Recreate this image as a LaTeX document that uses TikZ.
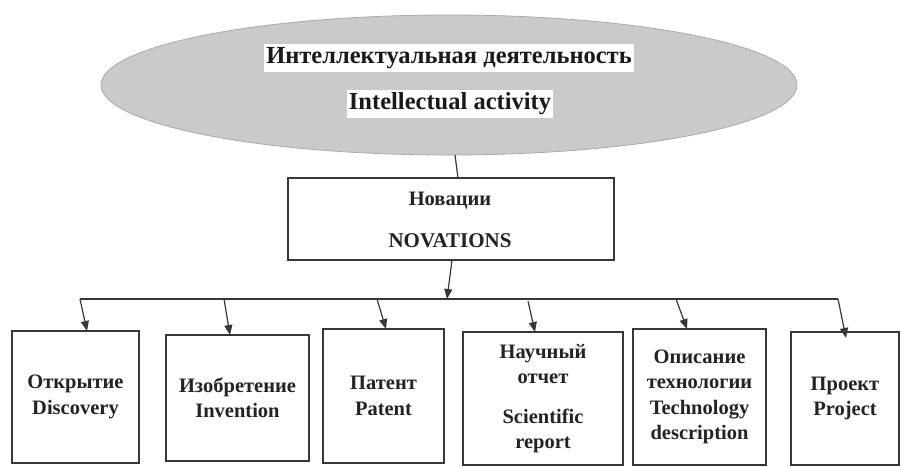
\documentclass[tikz,border=0pt]{standalone}
\usepackage{fontspec}
\setmainfont{Liberation Serif}
\usetikzlibrary{arrows.meta,shapes.geometric}
\definecolor{ellfill}{RGB}{202,202,202}
\definecolor{elldraw}{RGB}{170,170,170}
\definecolor{linec}{RGB}{55,55,55}
\definecolor{txtc}{RGB}{35,35,35}
\begin{document}
\begin{tikzpicture}[x=1pt,y=-1pt,
  every node/.style={inner sep=0pt, outer sep=0pt},
  boxnode/.style={draw=linec, line width=1.3pt, fill=white, align=center, text=txtc,
     font=\fontsize{20.5}{25.5}\selectfont\bfseries},
  toptext/.style={fill=white, inner xsep=2pt, inner ysep=3pt, text=black!90,
     font=\fontsize{24.5}{28}\selectfont\bfseries},
  conn/.style={draw=linec, line width=1.2pt},
  arr/.style={conn, -{Triangle[length=10pt,width=8pt]}}
]
\useasboundingbox (0,0) rectangle (901,466);

% ellipse
\node[ellipse, draw=elldraw, line width=0.8pt, fill=ellfill, minimum width=696pt, minimum height=140pt] (ia) at (449,85) {};
\node[toptext] (t1) at (449,58) {Интеллектуальная деятельность};
\node[toptext] (t2) at (450,104) {Intellectual activity};

% novations
\node[boxnode, minimum width=326pt, minimum height=82pt] (nov) at (451,219) {};
\node[text=txtc, font=\fontsize{20.5}{25}\selectfont\bfseries] (n1) at (450,201) {Новации};
\node[text=txtc, font=\fontsize{21}{25}\selectfont\bfseries] (n2) at (450,241) {NOVATIONS};

\draw[conn] ([xshift=6pt]ia.south) -- ([xshift=7pt]nov.north);

% bus
\coordinate (busL) at (80,299);
\coordinate (busR) at (838,299);
\coordinate (busM) at (447,299);
\draw[conn] (busL) -- (busR);
\draw[arr] ([xshift=1pt]nov.south) -- (busM);

% children
\node[boxnode, minimum width=127pt, minimum height=132pt] (b1) at (75.5,397) {Открытие\\Discovery};
\node[boxnode, minimum width=143pt, minimum height=126pt] (b2) at (237.5,398) {Изобретение\\Invention};
\node[boxnode, minimum width=121pt, minimum height=134pt] (b3) at (383.5,396) {Патент\\Patent};
\node[boxnode, minimum width=160pt, minimum height=133pt] (b4) at (543,398.5) {Научный\\отчет\\[14pt]Scientific\\report};
\node[boxnode, minimum width=133pt, minimum height=136pt] (b5) at (699.5,397) {Описание\\технологии\\Technology\\description};
\node[boxnode, minimum width=108pt, minimum height=133pt] (b6) at (845,398.5) {Проект\\Project};

\coordinate (s2) at (224,299);
\coordinate (s3) at (377,299);
\coordinate (s4) at (528,301);
\coordinate (s5) at (676,299);

\draw[arr] (busL) -- ([xshift=11.5pt]b1.north);
\draw[arr] (s2) -- ([xshift=-7.5pt]b2.north);
\draw[arr] (s3) -- ([xshift=2.5pt]b3.north);
\draw[arr] (s4) -- ([xshift=-8pt]b4.north);
\draw[arr] (s5) -- ([xshift=-12.5pt]b5.north);
\draw[arr] (busR) -- ([xshift=1pt,yshift=-6pt]b6.north);
\end{tikzpicture}
\end{document}
